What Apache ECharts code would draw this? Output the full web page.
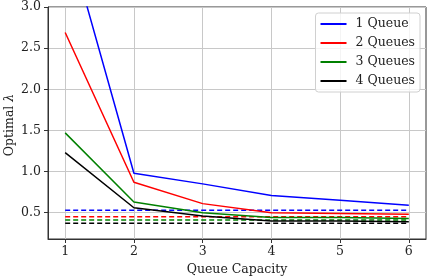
<!DOCTYPE html>
<html>
<head>
<meta charset="utf-8">
<script src="https://cdn.jsdelivr.net/npm/echarts@6/dist/echarts.min.js"></script>
<style>
  html, body { margin: 0; padding: 0; background: #fff; }
  #chart { width: 429px; height: 278px; }
</style>
</head>
<body>
<div id="chart"></div>
<script>
// queue capacity on x
var capacity = [1, 2, 3, 4, 5, 6];
var seriesNames = ['1 Queue', '2 Queues', '3 Queues', '4 Queues'];
var colors = ['#0000ff', '#ff0000', '#008000', '#000000'];
// optimal lambda, solid lines
var queue1 = [3.95, 0.98, 0.85, 0.71, 0.65, 0.59];
var queue2 = [2.69, 0.87, 0.61, 0.50, 0.49, 0.48];
var queue3 = [1.47, 0.63, 0.50, 0.44, 0.44, 0.43];
var queue4 = [1.23, 0.56, 0.46, 0.40, 0.40, 0.39];
// dashed reference levels
var baseline = [0.53, 0.45, 0.41, 0.37];
var yTicks = [0.5, 1.0, 1.5, 2.0, 2.5, 3.0];

var solid = [queue1, queue2, queue3, queue4];
var font = 'DejaVu Serif';

var series = [];
solid.forEach(function (vals, i) {
    series.push({
        name: seriesNames[i],
        type: 'line',
        data: capacity.map(function (c, k) { return [c, vals[k]]; }),
        showSymbol: false,
        lineStyle: { color: colors[i], width: 1.5 },
        itemStyle: { color: colors[i] },
        z: 3
    });
});
baseline.forEach(function (v, i) {
    series.push({
        name: seriesNames[i] + ' base',
        type: 'line',
        data: [[capacity[0], v], [capacity[capacity.length - 1], v]],
        showSymbol: false,
        lineStyle: { color: colors[i], width: 1.5, type: [5, 3] },
        z: 2
    });
});

var chart = echarts.init(document.getElementById('chart'), null, { renderer: 'canvas' });
chart.setOption({
    animation: false,
    backgroundColor: '#fff',
    grid: {
        left: 48, top: 7, width: 378, height: 232,
        show: true, borderColor: '#333', borderWidth: 1,
        containLabel: false, outerBoundsMode: 'none'
    },
    // y axis title drawn by hand so it sits where the reference has it
    graphic: [{
        type: 'text',
        x: 10, y: 125,
        rotation: Math.PI / 2,
        style: {
            text: 'Optimal {i|λ}',
            fontFamily: font, fontSize: 12.5, fill: '#222',
            align: 'center', verticalAlign: 'middle',
            rich: { i: { fontFamily: font, fontSize: 12.5, fontStyle: 'italic', fill: '#222' } }
        }
    }],
    legend: {
        data: seriesNames,
        orient: 'vertical',
        right: 9, top: 13,
        icon: 'rect',
        itemWidth: 26, itemHeight: 2,
        itemGap: 5,
        padding: [4, 5, 4, 5],
        backgroundColor: 'rgba(255,255,255,0.8)',
        borderColor: '#d0d0d0', borderWidth: 1, borderRadius: 3,
        textStyle: { fontFamily: font, fontSize: 12.5, color: '#222', padding: [0, 0, 0, 4], lineHeight: 14 }
    },
    xAxis: {
        type: 'value', min: 0.75, max: 6.25,
        name: 'Queue Capacity', nameLocation: 'middle', nameGap: 23,
        nameTextStyle: { fontFamily: font, fontSize: 12.5, color: '#222' },
        axisLine: { show: true, lineStyle: { color: '#333', width: 1 } },
        axisTick: { show: true, length: 4, customValues: capacity, lineStyle: { color: '#333' } },
        axisLabel: { customValues: capacity, fontFamily: font, fontSize: 12.5, color: '#222', margin: 6 },
        splitLine: { show: true, lineStyle: { color: '#c8c8c8', width: 1 } }
    },
    yAxis: {
        type: 'value', min: 0.18, max: 3.0,
        axisLine: { show: true, lineStyle: { color: '#333', width: 1 } },
        axisTick: { show: true, length: 4, customValues: yTicks, lineStyle: { color: '#333' } },
        axisLabel: {
            customValues: yTicks, fontFamily: font, fontSize: 12.5, color: '#222', margin: 7,
            formatter: function (v) { return v.toFixed(1); }
        },
        splitLine: { show: true, lineStyle: { color: '#c8c8c8', width: 1 } }
    },
    series: series
});
</script>
</body>
</html>
